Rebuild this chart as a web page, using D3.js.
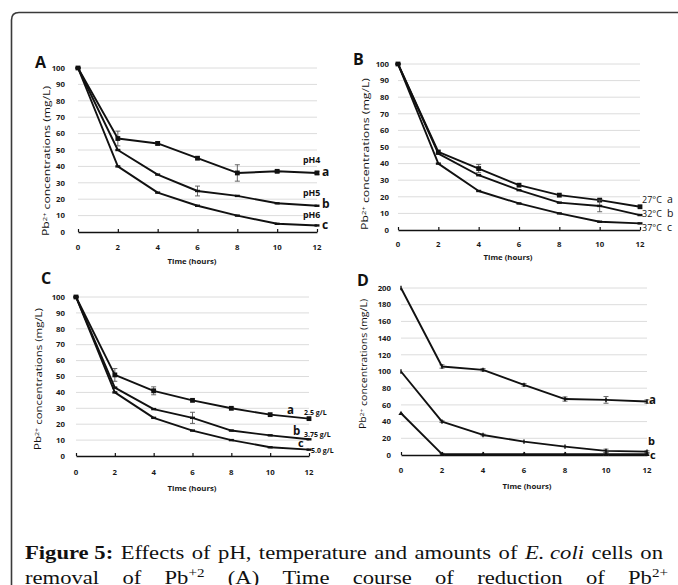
<!DOCTYPE html>
<html><head><meta charset="utf-8">
<script src="https://cdn.jsdelivr.net/npm/d3@7"></script>
<style>
html,body{margin:0;padding:0;background:#fff;}
svg{display:block;}
</style></head>
<body>
<svg id="chart" width="678" height="585"></svg>
<script>
// ---------- DATA ----------
const hours = [0, 2, 4, 6, 8, 10, 12];
const xTickLabels = ["0", "2", "4", "6", "8", "10", "12"];

// Panel A (pH)
const aPH4 = [100, 57, 54, 45, 36, 37, 36];
const aPH4Err = [0, 4.5, 1, 0.5, 5, 0.7, 1];
const aPH5 = [100, 50, 35, 25, 22, 17.5, 16];
const aPH5Err = [0, 0, 0, 3, 0, 0, 0];
const aPH6 = [100, 40, 24, 16, 10, 5, 4];
const aPH6Err = [0, 0, 0, 0, 0, 0, 0];

// Panel B (temperature)
const b27 = [100, 47, 37, 27, 21, 18, 14];
const b27Err = [0, 0, 2.5, 0.5, 0.5, 0.7, 0];
const b32 = [100, 46, 33, 24, 16.5, 14.5, 9];
const b32Err = [0, 0, 0, 0, 0, 3.5, 0];
const b37 = [100, 40, 23.5, 16, 10, 5, 4];
const b37Err = [0, 0, 0, 0, 0, 0, 0];

// Panel C (cell amount)
const c25 = [100, 51, 41, 35, 30, 26, 23.5];
const c25Err = [0, 4, 2.5, 0.5, 0, 0.5, 0];
const c375 = [100, 43, 29.5, 24, 16, 13, 10.5];
const c375Err = [0, 0, 0, 3.5, 0, 0, 0];
const c50 = [100, 40, 24, 16, 10, 5.5, 4];
const c50Err = [0, 0, 0, 0, 0, 0, 0];

// Panel D (initial concentration)
const d200 = [200, 106, 102, 84, 67, 66, 64];
const d200Err = [0, 2, 1.5, 1.5, 2.5, 4, 2];
const d100 = [100, 40, 24, 16, 10, 5, 4];
const d100Err = [0, 1, 1, 0.5, 0.5, 2, 1];
const d50 = [50, 1, 1, 1, 1, 1, 1];
const d50Err = [0, 1, 0.5, 0.5, 0.5, 1.5, 1];

const yTicks100 = [0, 10, 20, 30, 40, 50, 60, 70, 80, 90, 100];
const yTicks200 = [0, 20, 40, 60, 80, 100, 120, 140, 160, 180, 200];

const panelLetters = ["A", "B", "C", "D"];
const xTitle = "Time (hours)";
const captionLine1 = ["Figure 5:", "Effects", "of", "pH,", "temperature", "and", "amounts", "of", "E. coli", "cells", "on"];
const captionLine2 = ["removal", "of", "Pb+2", "(A)", "Time", "course", "of", "reduction", "of", "Pb2+"];

// ---------- LAYOUT ----------
const svg = d3.select("#chart");
const SANS = "'Open Sans', 'Liberation Sans', sans-serif";

// rounded frame
svg.append("path")
  .attr("d", "M11.5,600 L11.5,20 Q11.5,12.5 19,12.5 L690,12.5")
  .attr("fill", "none").attr("stroke", "#3a3a3a").attr("stroke-width", 1.6);

const panels = [
  { letter: panelLetters[0], x0: 78, x1: 317, yT: 68, yB: 232, max: 100, ticks: yTicks100, labGap: 13,
    xLabY: 247, titleX: 192, titleY: 261, letterX: 35, letterY: 68,
    yt: { x: 46, cy: 161, len: 150 },
    series: [
      { v: aPH4, e: aPH4Err, m: "square" },
      { v: aPH5, e: aPH5Err, m: "dash" },
      { v: aPH6, e: aPH6Err, m: "dash" } ] },
  { letter: panelLetters[1], x0: 398, x1: 640, yT: 64, yB: 230, max: 100, ticks: yTicks100, labGap: 9,
    xLabY: 244, titleX: 508, titleY: 257, letterX: 353, letterY: 65,
    yt: { x: 365, cy: 154, len: 152 },
    series: [
      { v: b27, e: b27Err, m: "square" },
      { v: b32, e: b32Err, m: "dash" },
      { v: b37, e: b37Err, m: "dash" } ] },
  { letter: panelLetters[2], x0: 76, x1: 309, yT: 297, yB: 456, max: 100, ticks: yTicks100, labGap: 11,
    xLabY: 472, titleX: 192, titleY: 488, letterX: 41, letterY: 284,
    yt: { x: 38, cy: 379, len: 142 },
    series: [
      { v: c25, e: c25Err, m: "square" },
      { v: c375, e: c375Err, m: "dash" },
      { v: c50, e: c50Err, m: "dash" } ] },
  { letter: panelLetters[3], x0: 401, x1: 647, yT: 288, yB: 455, max: 200, ticks: yTicks200, labGap: 10,
    xLabY: 470, titleX: 527, titleY: 486, letterX: 357, letterY: 286,
    yt: { x: 363, cy: 364, len: 130 },
    series: [
      { v: d200, e: d200Err, m: "bar" },
      { v: d100, e: d100Err, m: "bar" },
      { v: d50, e: d50Err, m: "tri" } ] }
];

panels.forEach(p => {
  const g = svg.append("g");
  const x = d3.scaleLinear().domain([0, 12]).range([p.x0, p.x1]);
  const y = d3.scaleLinear().domain([0, p.max]).range([p.yB, p.yT]);

  // gridlines
  g.selectAll("line.grid").data(p.ticks.filter(t => t > 0)).join("line")
    .attr("x1", p.x0).attr("x2", p.x1)
    .attr("y1", d => y(d)).attr("y2", d => y(d))
    .attr("stroke", "#dcdcdc").attr("stroke-width", 1);

  // y tick labels
  g.selectAll("text.yl").data(p.ticks).join("text")
    .attr("x", p.x0 - p.labGap).attr("y", d => y(d))
    .attr("dy", "0.35em").attr("text-anchor", "end")
    .attr("font-family", SANS).attr("font-weight", 700).attr("font-size", 7.8)
    .attr("fill", "#1a1a1a").text(d => d);

  // x axis
  const ax = d3.axisBottom(x).tickValues(hours).tickFormat((d, i) => xTickLabels[i])
    .tickSizeInner(-3).tickSizeOuter(0).tickPadding(0);
  const axg = g.append("g").attr("transform", `translate(0,${p.yB})`).call(ax);
  axg.select(".domain").attr("stroke", "#111").attr("stroke-width", 1.3);
  axg.selectAll(".tick line").attr("stroke", "#111").attr("stroke-width", 1.2);
  axg.selectAll(".tick text").remove();
  g.selectAll("text.xl").data(hours).join("text")
    .attr("x", d => x(d)).attr("y", p.xLabY).attr("dy", "0.35em")
    .attr("text-anchor", "middle")
    .attr("font-family", SANS).attr("font-weight", 700).attr("font-size", 7.8)
    .attr("fill", "#1a1a1a").text((d, i) => xTickLabels[i]);

  // x title
  g.append("text").attr("x", p.titleX).attr("y", p.titleY).attr("dy", "0.35em")
    .attr("text-anchor", "middle").attr("font-family", SANS).attr("font-weight", 700)
    .attr("font-size", 7.8).attr("fill", "#1a1a1a").text(xTitle);

  // y title
  const yt = g.append("text")
    .attr("transform", `translate(${p.yt.x},${p.yt.cy}) rotate(-90)`)
    .attr("text-anchor", "middle").attr("dy", "0.35em")
    .attr("font-family", SANS).attr("font-size", 8.8).attr("fill", "#111")
    .attr("textLength", p.yt.len).attr("lengthAdjust", "spacingAndGlyphs");
  yt.append("tspan").text("Pb");
  yt.append("tspan").attr("font-size", 5.5).attr("dy", "-0.35em").text("2+");
  yt.append("tspan").attr("dy", "0.35em").text(" concentrations (mg/L)");

  // panel letter
  g.append("text").attr("x", p.letterX).attr("y", p.letterY)
    .attr("font-family", SANS).attr("font-weight", 700).attr("font-size", 16)
    .attr("fill", "#111").text(p.letter);

  const line = d3.line().x((d, i) => x(hours[i])).y(d => y(d));

  p.series.forEach(s => {
    // error bars
    s.v.forEach((v, i) => {
      const e = s.e[i];
      if (e > 0.6) {
        const cx = x(hours[i]);
        g.append("line").attr("x1", cx).attr("x2", cx).attr("y1", y(v - e)).attr("y2", y(v + e))
          .attr("stroke", "#555").attr("stroke-width", 0.9);
        [v - e, v + e].forEach(b => g.append("line").attr("x1", cx - 2.5).attr("x2", cx + 2.5)
          .attr("y1", y(b)).attr("y2", y(b)).attr("stroke", "#555").attr("stroke-width", 0.9));
      }
    });
    g.append("path").attr("d", line(s.v)).attr("fill", "none")
      .attr("stroke", "#111").attr("stroke-width", 1.9).attr("stroke-linejoin", "round");
    // markers
    s.v.forEach((v, i) => {
      const cx = x(hours[i]), cy = y(v);
      if (s.m === "square") {
        g.append("rect").attr("x", cx - 2.4).attr("y", cy - 2.4).attr("width", 4.8).attr("height", 4.8).attr("fill", "#111");
      } else if (s.m === "dash") {
        g.append("line").attr("x1", cx - 2.5).attr("x2", cx + 2.5).attr("y1", cy).attr("y2", cy)
          .attr("stroke", "#111").attr("stroke-width", 2.4);
      } else if (s.m === "bar") {
        g.append("line").attr("x1", cx).attr("x2", cx).attr("y1", cy - 2.2).attr("y2", cy + 2.2)
          .attr("stroke", "#111").attr("stroke-width", 1.4);
      } else if (s.m === "tri") {
        g.append("path").attr("d", `M${cx - 2.6},${cy + 1.8} L${cx + 2.6},${cy + 1.8} L${cx},${cy - 2.6} Z`).attr("fill", "#111");
      }
    });
  });
});

// ---------- series annotations ----------
function lab(xp, yp, txt, size, weight, anchor) {
  return svg.append("text").attr("x", xp).attr("y", yp).attr("dy", "0.35em")
    .attr("font-family", SANS).attr("font-size", size).attr("font-weight", weight || 700)
    .attr("text-anchor", anchor || "start").attr("fill", "#111").text(txt);
}
// A
lab(303, 160, "pH4", 8.8); lab(322, 172, "a", 12);
lab(303, 193, "pH5", 8.8); lab(322, 204, "b", 12);
lab(303, 215, "pH6", 8.8); lab(322, 225, "c", 12);
// B
lab(642, 200, "27°C", 9, 400); lab(667, 199.5, "a", 10.5, 400);
lab(642, 214, "32°C", 9, 400); lab(667, 213.5, "b", 10.5, 400);
lab(642, 227.5, "37°C", 9, 400); lab(667, 227.5, "c", 10.5, 400);
// C
lab(287, 410, "a", 11.5); lab(304, 413, "2.5 g/L", 7);
lab(293, 431, "b", 11.5); lab(304, 434.5, "3.75 g/L", 7);
lab(298, 443.5, "c", 11); lab(311, 450.5, "5.0 g/L", 7);
// D
lab(649, 400, "a", 11.5); lab(648, 441.5, "b", 11); lab(650, 455, "c", 11);

// ---------- caption ----------
const SERIF = "'Liberation Serif', 'DejaVu Serif', serif";
const STRETCH = 1.16;
function justifyLine(words, yBase, xL, xR, styler) {
  const nodes = words.map((w, i) => {
    const t = svg.append("text").attr("y", yBase).attr("font-family", SERIF).attr("font-size", 19.5).attr("fill", "#111");
    styler(t, w, i);
    return t;
  });
  const widths = nodes.map(n => n.node().getComputedTextLength() * STRETCH);
  nodes.forEach((n, i) => n.attr("textLength", widths[i]).attr("lengthAdjust", "spacingAndGlyphs"));
  const total = d3.sum(widths);
  const gap = (xR - xL - total) / (words.length - 1);
  let cx = xL;
  nodes.forEach((n, i) => { n.attr("x", cx); cx += widths[i] + gap; });
}
justifyLine(captionLine1, 559, 25, 663, (t, w, i) => {
  if (i === 0) t.attr("font-weight", 700).text(w);
  else if (w === "E. coli") t.attr("font-style", "italic").text(w);
  else t.text(w);
});
justifyLine(captionLine2, 584, 25, 668, (t, w, i) => {
  if (w === "Pb+2") { t.append("tspan").text("Pb"); t.append("tspan").attr("font-size", 13).attr("dy", -7).text("+2"); }
  else if (w === "Pb2+") { t.append("tspan").text("Pb"); t.append("tspan").attr("font-size", 13).attr("dy", -7).text("2+"); }
  else t.text(w);
});
</script>
</body></html>
